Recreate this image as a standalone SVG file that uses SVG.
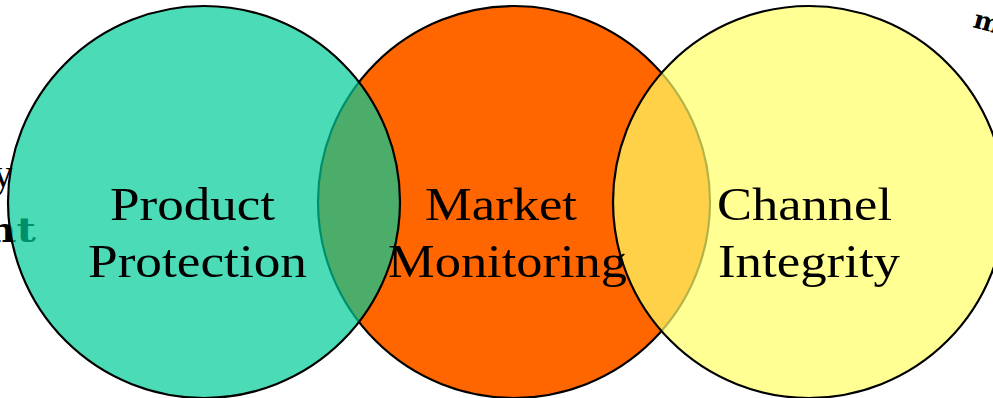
<svg xmlns="http://www.w3.org/2000/svg" width="993" height="398" viewBox="0 0 993 398">
  <style>
    .circ { stroke: #000; stroke-width: 2.2; }
    .lbl { font-family: "Liberation Serif", "DejaVu Serif", serif; font-size: 47px; fill: #000; text-anchor: middle; }
    .frag-serif { font-family: "Liberation Serif", serif; font-size: 40px; fill: #000; }
    .frag-slab { font-family: "DejaVu Serif", "Liberation Serif", serif; font-weight: bold; fill: #000; }
  </style>
  <rect width="993" height="398" fill="#fff"/>
  <g id="offscreen-fragments">
    <text class="frag-serif" x="13" y="187" text-anchor="end">y</text>
    <text class="frag-slab" x="-14" y="242" font-size="34" textLength="50" lengthAdjust="spacingAndGlyphs">nt</text>
    <text class="frag-slab" x="972" y="27" font-size="26" transform="rotate(15 972 27)">m</text>
  </g>
  <g id="node-market-monitoring">
    <circle class="circ" cx="514" cy="202" r="196" fill="#FF6600"/>
  </g>
  <g id="node-product-protection">
    <circle class="circ" cx="204" cy="202" r="196" fill="#00CC99" fill-opacity="0.7"/>
  </g>
  <g id="node-channel-integrity">
    <circle class="circ" cx="809" cy="202" r="196" fill="#FFFF66" fill-opacity="0.7"/>
  </g>
  <g id="connectors"></g>
  <g id="labels">
    <g id="label-product-protection">
      <text class="lbl" x="192.5" y="220" textLength="165" lengthAdjust="spacingAndGlyphs">Product</text>
      <text class="lbl" x="197.5" y="277" textLength="219" lengthAdjust="spacingAndGlyphs">Protection</text>
    </g>
    <g id="label-market-monitoring">
      <text class="lbl" x="501" y="220" textLength="152" lengthAdjust="spacingAndGlyphs">Market</text>
      <text class="lbl" x="507.5" y="277" textLength="239" lengthAdjust="spacingAndGlyphs">Monitoring</text>
    </g>
    <g id="label-channel-integrity">
      <text class="lbl" x="804.5" y="220" textLength="175" lengthAdjust="spacingAndGlyphs">Channel</text>
      <text class="lbl" x="809" y="277" textLength="182" lengthAdjust="spacingAndGlyphs">Integrity</text>
    </g>
  </g>
</svg>
